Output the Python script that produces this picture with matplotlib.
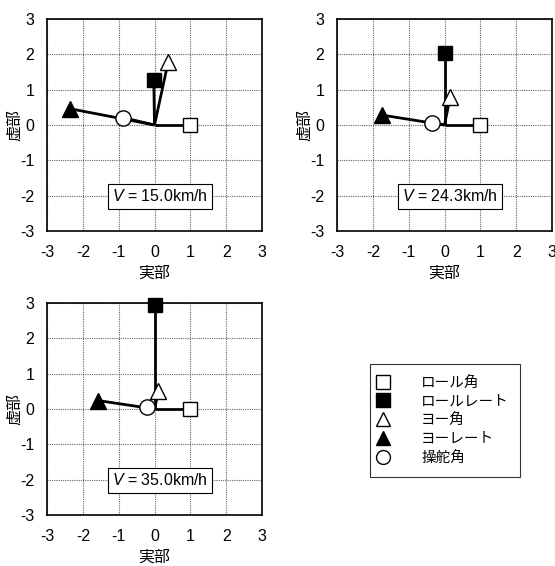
import matplotlib
matplotlib.use("Agg")
import matplotlib.pyplot as plt
from matplotlib.lines import Line2D

plt.rcParams['font.family'] = ['Liberation Sans', 'Noto Sans CJK JP']
plt.rcParams['mathtext.fontset'] = 'custom'
plt.rcParams['mathtext.it'] = 'Liberation Sans:italic'
plt.rcParams['mathtext.rm'] = 'Liberation Sans'
plt.rcParams['axes.unicode_minus'] = False

# speeds for each panel
speeds = ["15.0", "24.3", "35.0"]

# component names (legend order)
names = ["ロール角", "ロールレート", "ヨー角", "ヨーレート", "操舵角"]

# real / imaginary parts of each component, one list per panel
roll_angle_re = [1.0, 1.0, 1.0]
roll_angle_im = [0.0, 0.0, 0.0]
roll_rate_re = [-0.02, 0.0, 0.0]
roll_rate_im = [1.28, 2.05, 2.95]
yaw_angle_re = [0.38, 0.16, 0.11]
yaw_angle_im = [1.78, 0.80, 0.50]
yaw_rate_re = [-2.35, -1.74, -1.58]
yaw_rate_im = [0.46, 0.28, 0.24]
steer_re = [-0.88, -0.36, -0.21]
steer_im = [0.21, 0.07, 0.05]

ticks = [-3, -2, -1, 0, 1, 2, 3]

# marker style per component
styles = [
    dict(marker='s', mfc='white', ms=10),
    dict(marker='s', mfc='black', ms=10),
    dict(marker='^', mfc='white', ms=11),
    dict(marker='^', mfc='black', ms=11),
    dict(marker='o', mfc='white', ms=11),
]

fig = plt.figure(figsize=(5.55, 5.66), dpi=100)
W, H = 555.0, 566.0
boxes = [(47, 19), (337, 19), (47, 303)]  # left, top in pixels

for i, (lx, ty) in enumerate(boxes):
    ax = fig.add_axes([lx / W, 1 - (ty + 212) / H, 215 / W, 212 / H])
    pts = [
        (roll_angle_re[i], roll_angle_im[i]),
        (roll_rate_re[i], roll_rate_im[i]),
        (yaw_angle_re[i], yaw_angle_im[i]),
        (yaw_rate_re[i], yaw_rate_im[i]),
        (steer_re[i], steer_im[i]),
    ]
    # lines from origin
    for (x, y) in pts:
        ax.plot([0, x], [0, y], color='black', lw=2, zorder=3, solid_capstyle='butt')
    for (x, y), st in zip(pts, styles):
        ax.plot([x], [y], ls='none', mec='black', mew=1, zorder=4, clip_on=False, **st)
    ax.set_xlim(-3, 3)
    ax.set_ylim(-3, 3)
    ax.set_xticks(ticks)
    ax.set_yticks(ticks)
    ax.grid(True, color='#666666', linestyle=(0, (1, 1)), linewidth=0.8)
    ax.set_axisbelow(True)
    ax.tick_params(length=0, labelsize=11.5)
    ax.tick_params(axis='x', pad=10)
    ax.tick_params(axis='y', pad=9)
    for sp in ax.spines.values():
        sp.set_linewidth(1.2)
    ax.set_xlabel("実部", fontsize=11.5, labelpad=4)
    ax.set_ylabel("虚部", fontsize=11.5, labelpad=-1)
    ax.text(0.15, -2.02, "$V$ = " + speeds[i] + "km/h", ha='center', va='center',
            fontsize=11.5, zorder=5,
            bbox=dict(boxstyle='square,pad=0.28', fc='white', ec='black', lw=0.8))

handles = [Line2D([], [], ls='none', mec='black', mew=1, color='black',
                  marker=st['marker'], mfc=st['mfc'], ms=10) for st in styles]
leg = fig.legend(handles, names, loc='upper left',
                 bbox_to_anchor=(370 / W, 1 - 364 / H), frameon=True, fancybox=False,
                 edgecolor='black', fontsize=10.5, handletextpad=2.5, labelspacing=0.33,
                 borderpad=0.8, handlelength=0.2, borderaxespad=0)
leg.get_frame().set_linewidth(0.8)

fig.savefig("out.png", dpi=100)
